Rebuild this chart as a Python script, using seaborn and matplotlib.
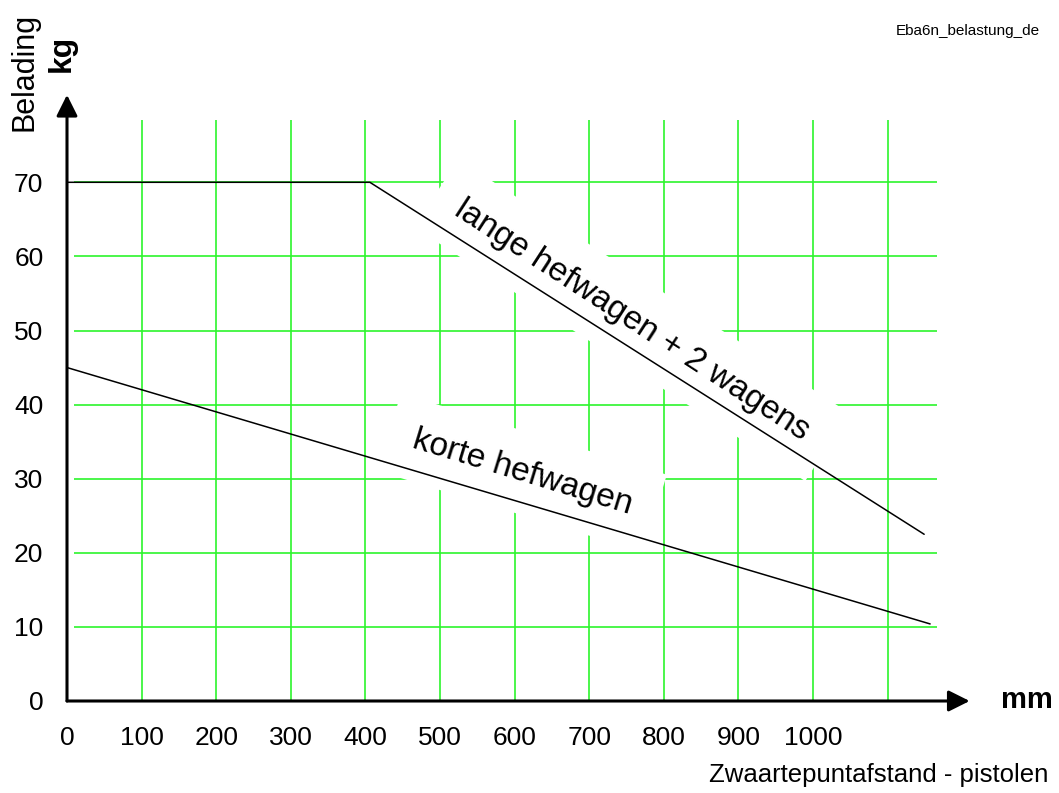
import matplotlib
matplotlib.use("Agg")
import matplotlib.pyplot as plt
import seaborn as sns

# values
x_ticks = [0, 100, 200, 300, 400, 500, 600, 700, 800, 900, 1000, 1100]
x_labels = ["0", "100", "200", "300", "400", "500", "600", "700", "800", "900", "1000", ""]
y_ticks = [0, 10, 20, 30, 40, 50, 60, 70]

lang_x = [0, 406, 1149]
lang_y = [70, 70, 22.5]
kort_x = [0, 1157]
kort_y = [45, 10.4]

sns.set_style("white")
plt.rcParams['font.family'] = ['Liberation Sans', 'DejaVu Sans']
plt.rcParams['text.color'] = 'black'
plt.rcParams['xtick.labelcolor'] = 'black'
plt.rcParams['ytick.labelcolor'] = 'black'
narrow = ['Liberation Sans Narrow', 'Liberation Sans', 'DejaVu Sans']

W, H = 1059, 793
fig = plt.figure(figsize=(W / 100, H / 100), dpi=100)
ax = fig.add_axes([67 / W, (H - 701) / H, (1000 - 67) / W, (701 - 80) / H])
ax.set_xlim(0, (1000 - 67) / 0.746)
ax.set_ylim(0, (701 - 80) / 7.41)
for s in ax.spines.values():
    s.set_visible(False)

# green grid
ax.vlines(x_ticks[1:], 0, 78.4, color="#2cf52c", lw=1.2, zorder=1)
ax.hlines(y_ticks[1:], 10, 1166, color="#2cf52c", lw=1.2, zorder=1)

# data lines
sns.lineplot(x=lang_x, y=lang_y, color="black", lw=1.1, ax=ax, zorder=5, sort=False)
sns.lineplot(x=kort_x, y=kort_y, color="black", lw=1.1, ax=ax, zorder=5, sort=False)

# axes with arrows
arrow = dict(arrowstyle="-|>", lw=2.2, color="black", mutation_scale=32,
             shrinkA=0, shrinkB=0)
ax.annotate("", xy=(0, 81.8), xytext=(0, 0), arrowprops=arrow, annotation_clip=False, zorder=6)
ax.annotate("", xy=(1210, 0), xytext=(0, 0), arrowprops=arrow, annotation_clip=False, zorder=6)

ax.set_xticks(x_ticks)
ax.set_xticklabels(x_labels, family=narrow, fontsize=19)
ax.set_yticks(y_ticks)
ax.set_yticklabels([str(v) for v in y_ticks], family=narrow, fontsize=19)
ax.tick_params(axis="x", direction="inout", length=14, width=1.5, color="#333333", pad=11)
ax.tick_params(axis="y", direction="out", length=9, width=1.5, color="#333333", pad=8)

# curve labels with white boxes cutting the grid
box = dict(facecolor="white", edgecolor="none", pad=18)
ax.text(757, 51.4, "lange hefwagen + 2 wagens", rotation=-33, rotation_mode="anchor",
        ha="center", va="center", fontsize=24, bbox=box, zorder=3)
ax.text(610, 30.8, "korte hefwagen", rotation=-17, rotation_mode="anchor",
        ha="center", va="center", fontsize=24, bbox=box, zorder=3)

fig.text(24 / W, 1 - 72 / H, "Belading", rotation=90, ha="center", va="center", fontsize=22)
fig.text(62 / W, 1 - 53 / H, "kg", rotation=90, ha="center", va="center",
         fontsize=23, fontweight="bold")
fig.text(1027 / W, 1 - 700 / H, "mm", ha="center", va="center", fontsize=21, fontweight="bold")
fig.text(1048 / W, 1 - 775 / H, "Zwaartepuntafstand - pistolen", ha="right", va="center",
         fontsize=18.5)
fig.text(1040 / W, 1 - 31 / H, "Eba6n_belastung_de", ha="right", va="center", fontsize=11)

fig.savefig("out.png", dpi=100, facecolor="white")
